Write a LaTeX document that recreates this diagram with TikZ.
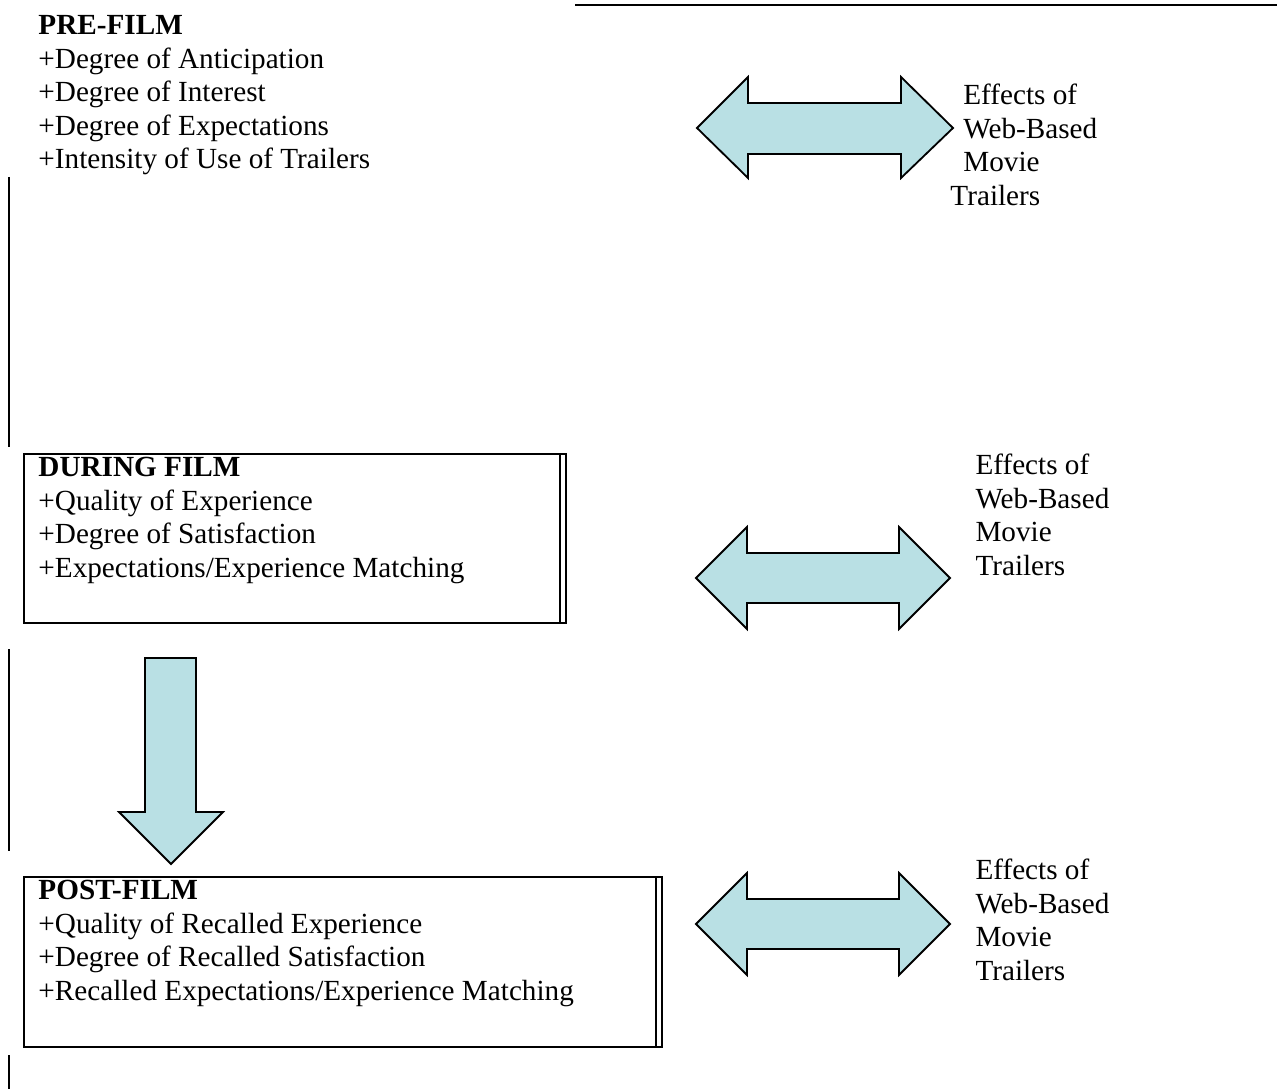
\documentclass[tikz,border=0pt]{standalone}
\usepackage{fontspec}
\setmainfont{Liberation Serif}
\usepackage{xcolor}
\usetikzlibrary{positioning}
\definecolor{trailerblue}{RGB}{185,224,228}
\tikzset{
  stage/.style={anchor=base west, inner sep=0pt, align=left, font=\fontsize{12pt}{13.8pt}\selectfont},
  effects/.style={anchor=base west, inner sep=0pt, align=left, font=\fontsize{12pt}{13.8pt}\selectfont},
  blockarrow/.style={fill=trailerblue, draw=black, line width=0.75pt, line join=miter},
  frame/.style={draw=black, line width=1pt},
  rule/.style={draw=black, line width=1.1pt}
}
\begin{document}
\begin{tikzpicture}[x=0.411pt, y=-0.411pt]
      \useasboundingbox (0,0) rectangle (1277,1089);
      % rules
      \draw[rule] (575,5) -- (1277,5);
      \draw[rule] (9,177) -- (9,447);
      \draw[rule] (9,649) -- (9,851);
      \draw[rule] (9,1055) -- (9,1089);
      % stages (anchored at the last baseline)
      \node[stage] (prefilm) at (38,169) {\textbf{PRE-FILM}\\+Degree of Anticipation\\+Degree of Interest\\+Degree of Expectations\\+Intensity of Use of Trailers};
      \draw[frame] (24,454) rectangle (566,623);
      \draw[frame] (560,454) -- (560,623);
      \node[stage] (during) at (38,577.5) {\textbf{DURING FILM}\\+Quality of Experience\\+Degree of Satisfaction\\+Expectations/Experience Matching};
      \draw[frame] (24,877) rectangle (662,1047);
      \draw[frame] (656,877) -- (656,1047);
      \node[stage] (post) at (38,1000.5) {\textbf{POST-FILM}\\+Quality of Recalled Experience\\+Degree of Recalled Satisfaction\\+Recalled Expectations/Experience Matching};
      % down arrow
      \draw[blockarrow] (145,658) -- (196,658) -- (196,812) -- (223,812) -- (171,864) -- (119,812) -- (145,812) -- cycle;
      % double arrows
      \draw[blockarrow] (697,128) -- (748,77) -- (748,103) -- (901,103) -- (901,77) -- (953,128) -- (901,178) -- (901,154) -- (748,154) -- (748,178) -- cycle;
      \draw[blockarrow] (696,578) -- (747,527) -- (747,553) -- (899,553) -- (899,527) -- (950,578) -- (899,629) -- (899,603) -- (747,603) -- (747,629) -- cycle;
      \draw[blockarrow] (696,924) -- (747,873) -- (747,899) -- (899,899) -- (899,873) -- (950,924) -- (899,975) -- (899,949) -- (747,949) -- (747,975) -- cycle;
      % effects labels
      \node[effects] (effpre) at (950,205.5) {\hspace*{5.3pt}Effects of\\\hspace*{5.3pt}Web-Based\\\hspace*{5.3pt}Movie\\Trailers};
      \node[effects] (effduring) at (975,575.5) {Effects of\\Web-Based\\Movie\\Trailers};
      \node[effects] (effpost) at (975,980.5) {Effects of\\Web-Based\\Movie\\Trailers};
\end{tikzpicture}
\end{document}
